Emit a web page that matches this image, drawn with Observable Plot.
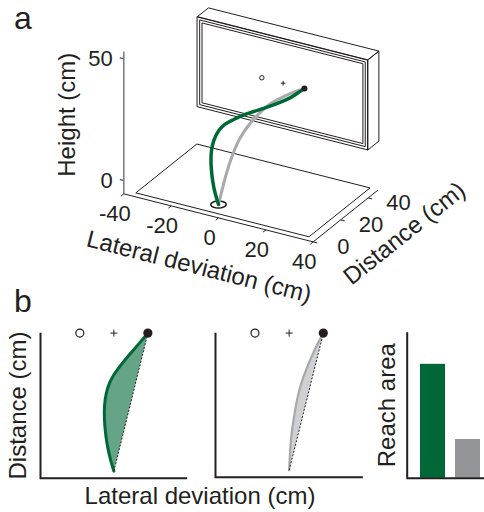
<!DOCTYPE html>
<html>
<head>
<meta charset="utf-8">
<script src="https://cdn.jsdelivr.net/npm/d3@7"></script>
<script src="https://cdn.jsdelivr.net/npm/@observablehq/plot@0.6"></script>
<style>
  html, body { margin:0; padding:0; background:#fff; }
  #fig { position:relative; width:484px; height:512px; overflow:hidden; background:#fff;
         font-family:"Liberation Sans", Arial, Helvetica, sans-serif; color:#231f20; }
  #fig svg { position:absolute; }
  .plabel { position:absolute; font-size:32px; line-height:normal; }
  .xlab { position:absolute; font-size:24px; line-height:24px; text-align:center; white-space:nowrap; }
</style>
</head>
<body>
<div id="fig">
  <div class="plabel" style="left:14px;top:0px;">a</div>
  <div class="plabel" style="left:14px;top:283px;">b</div>
  <div class="xlab" style="left:0px;top:484px;width:400px;">Lateral deviation (cm)</div>
</div>
<script>
const INK = "#231f20", GREEN = "#006837", GRAY_LINE = "#a7a9ac", GRAY_BAR = "#939598", AXIS_GRAY = "#6d6e71";
const FONT = "Liberation Sans, Arial, Helvetica, sans-serif";

// ---------- Panel a: 3D reach (cm) ----------
const green3dX = [0, -2.45, -4.25, -5.28, -5.47, -5.1, -4.0, -2.83, -1.52, 0.38, 3.15, 5.87, 7.77, 8.66, 9];
const green3dY = [0, 0.8, 2, 4, 6, 9, 12, 16, 21, 25, 30, 35, 39, 43.5, 47];
const green3dZ = [0, 6.1, 13.4, 19.1, 22.2, 25.1, 26.7, 27.0, 27.0, 27.0, 27.2, 27.7, 28.2, 28.6, 28.6];
const gray3dX = [0, 0.8, 1.6, 2.2, 2.8, 3.7, 4.5, 6.0, 7.4, 9];
const gray3dY = [0, 3, 6, 11, 16, 23, 30, 36, 42, 47];
const gray3dZ = [0, 8.7, 15.8, 21.9, 25.2, 27.8, 28.9, 29.2, 29.0, 28.6];

const targetLateral = [-9, 0, 9];      // open target, fixation cross, reached target
const targetDistance = 47;
const targetHeight = 28.6;
const startRadius = 2.8;

const floorLateral = [-36.4, 36.6];
const floorDistance = [2.8, 47.2];
const floorHeight = -5.5;

const monitorLateral = [-36.2, 35.8];
const monitorDistance = [47, 55];
const monitorHeight = [10, 47];
const bezelInsets = [1.1, 2.1];

const lateralRange = [-40, 40];
const distanceRange = [0, 47];
const heightRange = [-5.5, 53];
const lateralTicks = [-40, -20, 0, 20, 40];
const distanceTicks = [0, 20, 40];
const heightTicks = [0, 50];

// ---------- Panel b: top view (cm) ----------
const greenTopX = [9, 7.9, 6.3, 4.6, 2.9, 1.3, 0.0, -1.2, -2.0, -2.45, -2.5, -2.2, -1.6, -0.8, 0];
const greenTopY = [47, 45.3, 42.9, 40.4, 37.8, 35.2, 32.8, 29.8, 26.5, 22.5, 18, 13, 8, 3.5, 0];
const grayTopX = [9, 6.8, 4.9, 3.3, 2.15, 1.35, 0.7, 0.3, 0];
const grayTopY = [47, 41.5, 35.8, 30.2, 24.5, 18.8, 13.1, 7.4, 0];
const topStart = [0, 0];
const topTarget = [9, 47];

const conditions = ["Curved reach", "Direct reach"];
const reachArea = [78, 26.5];

// ---------- projection ----------
const ex = [2.367, 0.6], ey = [1.375, -1.1], ez = [0, -2.434];
const proj = (x, y, z) => ({u: x*ex[0] + y*ey[0] + z*ez[0], v: x*ex[1] + y*ey[1] + z*ez[1]});
const path3d = (xs, ys, zs) => xs.map((x, i) => proj(x, ys[i], zs[i]));
const poly = pts => pts.map(p => proj(...p));
const seg = (a, b) => { const p = proj(...a), q = proj(...b); return {x1: p.u, y1: p.v, x2: q.u, y2: q.v}; };
const deg = (a) => Math.atan2(a[1], a[0]) * 180 / Math.PI;

const [fx0, fx1] = floorLateral, [fy0, fy1] = floorDistance, fz = floorHeight;
const floorPoly = poly([[fx0,fy0,fz],[fx1,fy0,fz],[fx1,fy1,fz],[fx0,fy1,fz]]);

const [mx0, mx1] = monitorLateral, [my0, my1] = monitorDistance, [mz0, mz1] = monitorHeight;
const frontRects = [0, ...bezelInsets].map(i => poly([[mx0+i,my0,mz0+i],[mx1-i,my0,mz0+i],[mx1-i,my0,mz1-i],[mx0+i,my0,mz1-i]]));
const topFace = poly([[mx0,my0,mz1],[mx0,my1,mz1],[mx1,my1,mz1],[mx1,my0,mz1]]);
const rightFace = poly([[mx1,my0,mz1],[mx1,my1,mz1],[mx1,my1,mz0],[mx1,my0,mz0]]);

const [xmin, xmax] = lateralRange, [ymin, ymax] = distanceRange, [zmin, zmax] = heightRange;
const axesGrayLinks = [seg([xmin,ymin,zmin],[xmin,ymin,zmax]), ...heightTicks.map(t => seg([xmin,ymin,t],[xmin-1.7,ymin,t]))];
const axesLinks = [
  seg([xmin,ymin,zmin],[xmax,ymin,zmin]),
  seg([xmax,ymin,zmin],[xmax,ymax,zmin]),
  ...lateralTicks.map(t => seg([t,ymin,zmin],[t,ymin-2,zmin])),
  ...distanceTicks.map(t => seg([xmax,t,zmin],[xmax+1.7,t,zmin]))
];

const ring = d3.range(0, 361, 10).map(a => proj(startRadius*Math.cos(a*Math.PI/180), startRadius*Math.sin(a*Math.PI/180), 0));
const targets3d = targetLateral.map(x => proj(x, targetDistance, targetHeight));

const lineOpts = {x: "u", y: "v", stroke: INK, strokeWidth: 1, curve: "linear-closed"};

const plotA = Plot.plot({
  width: 484, height: 300, margin: 0,
  x: {type: "linear", domain: [-218, 266], range: [0, 484], axis: null},
  y: {type: "linear", domain: [-204, 96], range: [0, 300], axis: null},
  style: {fontFamily: FONT, color: INK, background: "transparent", overflow: "visible"},
  marks: [
    Plot.line(floorPoly, lineOpts),
    ...frontRects.map(r => Plot.line(r, lineOpts)),
    Plot.line(topFace, lineOpts),
    Plot.line(rightFace, lineOpts),
    Plot.link(axesGrayLinks, {x1: "x1", y1: "y1", x2: "x2", y2: "y2", stroke: AXIS_GRAY, strokeWidth: 1.4}),
    Plot.link(axesLinks, {x1: "x1", y1: "y1", x2: "x2", y2: "y2", stroke: INK, strokeWidth: 1}),
    Plot.line(ring, {x: "u", y: "v", stroke: INK, strokeWidth: 1.6, curve: "linear-closed"}),
    Plot.dot([targets3d[0]], {x: "u", y: "v", r: 2.2, stroke: INK, strokeWidth: 1, fill: "white"}),
    Plot.dot([targets3d[1]], {x: "u", y: "v", r: 1.6, symbol: "plus", stroke: INK, strokeWidth: 1}),
    Plot.line(path3d(gray3dX, gray3dY, gray3dZ), {x: "u", y: "v", stroke: GRAY_LINE, strokeWidth: 3, curve: "catmull-rom", strokeLinecap: "round"}),
    Plot.line(path3d(green3dX, green3dY, green3dZ), {x: "u", y: "v", stroke: GREEN, strokeWidth: 3.5, curve: "catmull-rom", strokeLinecap: "round"}),
    Plot.dot([targets3d[2]], {x: "u", y: "v", r: 3, fill: INK}),
    // tick labels
    Plot.text(heightTicks, {x: t => proj(xmin, ymin, t).u, y: t => proj(xmin, ymin, t).v, text: t => `${t}`, textAnchor: "end", dx: -11, fontSize: 22, fill: INK}),
    Plot.text(lateralTicks, {x: t => proj(t, ymin, zmin).u, y: t => proj(t, ymin, zmin).v, text: t => `${t}`, dx: -9, dy: 19.6, fontSize: 22, fill: INK}),
    Plot.text(distanceTicks, {x: t => proj(xmax, t, zmin).u, y: t => proj(xmax, t, zmin).v, text: t => `${t}`, dx: 30.3, dy: 5.4, fontSize: 22, fill: INK}),
    // axis titles
    Plot.text(["Height (cm)"], {x: () => proj(xmin, ymin, (zmin+zmax)/2).u, y: () => proj(xmin, ymin, (zmin+zmax)/2).v, text: d => d, rotate: -90, dx: -56.6, dy: -8, fontSize: 24, fill: INK}),
    Plot.text(["Lateral deviation (cm)"], {x: () => proj(0, ymin, zmin).u, y: () => proj(0, ymin, zmin).v, text: d => d, rotate: deg(ex), dx: -19.5, dy: 49, fontSize: 24, fill: INK}),
    Plot.text(["Distance (cm)"], {x: () => proj(xmax, (ymin+ymax)/2, zmin).u, y: () => proj(xmax, (ymin+ymax)/2, zmin).v, text: d => d, rotate: deg(ey), dx: 59, dy: 17.5, fontSize: 24, fill: INK})
  ]
});
plotA.style.left = "0px"; plotA.style.top = "0px";

// ---------- Panel b ----------
const topDomainX = [-19.4, 19.4], topDomainY = [-2.4, 47.1];
const lFrame = (w, h, m) => {
  const len = w - m.marginLeft - m.marginRight + h - m.marginTop - m.marginBottom;
  return Plot.frame({stroke: INK, strokeWidth: 2, strokeDasharray: `0 ${len} ${len}`});
};

function topView(xs, ys, color, fillColor, fillOpacity, strokeW, dims, extra) {
  const pts = xs.map((x, i) => ({x, y: ys[i]}));
  return Plot.plot({
    ...dims,
    x: {domain: topDomainX, axis: null},
    y: {domain: topDomainY, axis: null},
    style: {fontFamily: FONT, color: INK, background: "transparent", overflow: "visible"},
    marks: [
      Plot.line(pts, {x: "x", y: "y", fill: fillColor, fillOpacity, stroke: "none", curve: "catmull-rom"}),
      Plot.line(pts, {x: "x", y: "y", stroke: color, strokeWidth: strokeW, curve: "catmull-rom", strokeLinecap: "round"}),
      Plot.link([{x1: topStart[0], y1: topStart[1], x2: topTarget[0], y2: topTarget[1]}], {x1: "x1", y1: "y1", x2: "x2", y2: "y2", stroke: INK, strokeWidth: 1, strokeDasharray: "2,1.6"}),
      Plot.dot([targetLateral[0]], {x: d => d, y: () => targetDistance, r: 4, stroke: INK, strokeWidth: 1.2, fill: "white"}),
      Plot.dot([targetLateral[1]], {x: d => d, y: () => targetDistance, r: 2.4, symbol: "plus", stroke: INK, strokeWidth: 1}),
      Plot.dot([targetLateral[2]], {x: d => d, y: () => targetDistance, r: 4.6, fill: INK}),
      lFrame(dims.width, dims.height, dims),
      ...extra
    ]
  });
}

const dimsL = {width: 200, height: 185, marginLeft: 40, marginRight: 13.3, marginTop: 32.3, marginBottom: 7.3};
const plotB1 = topView(greenTopX, greenTopY, GREEN, GREEN, 0.6, 3, dimsL,
  [Plot.text(["Distance (cm)"], {frameAnchor: "left", textAnchor: "middle", text: d => d, rotate: -90, dx: -22, fontSize: 24, fill: INK})]);
plotB1.style.left = "0px"; plotB1.style.top = "300px";

const dimsM = {width: 180, height: 185, marginLeft: 15, marginRight: 17.7, marginTop: 32.3, marginBottom: 8.3};
const plotB2 = topView(grayTopX, grayTopY, GRAY_LINE, GRAY_LINE, 0.55, 2.2, dimsM, []);
plotB2.style.left = "200px"; plotB2.style.top = "300px";

const dimsR = {width: 134, height: 185, marginLeft: 46.7, marginRight: 0.8, marginTop: 31.7, marginBottom: 7.3};
const plotB3 = Plot.plot({
  ...dimsR,
  x: {domain: conditions, paddingInner: 0.275, paddingOuter: 0.344, axis: null},
  y: {domain: [0, 100], axis: null},
  color: {domain: conditions, range: [GREEN, GRAY_BAR]},
  style: {fontFamily: FONT, color: INK, background: "transparent", overflow: "visible"},
  marks: [
    Plot.barY(conditions, {x: c => c, y: (c, i) => reachArea[i], fill: c => c}),
    lFrame(dimsR.width, dimsR.height, dimsR),
    Plot.text(["Reach area"], {frameAnchor: "left", textAnchor: "middle", text: d => d, rotate: -90, dx: -20, fontSize: 24, fill: INK})
  ]
});
plotB3.style.left = "360px"; plotB3.style.top = "300px";

const fig = document.getElementById("fig");
fig.appendChild(plotA);
fig.appendChild(plotB1);
fig.appendChild(plotB2);
fig.appendChild(plotB3);
</script>
</body>
</html>
